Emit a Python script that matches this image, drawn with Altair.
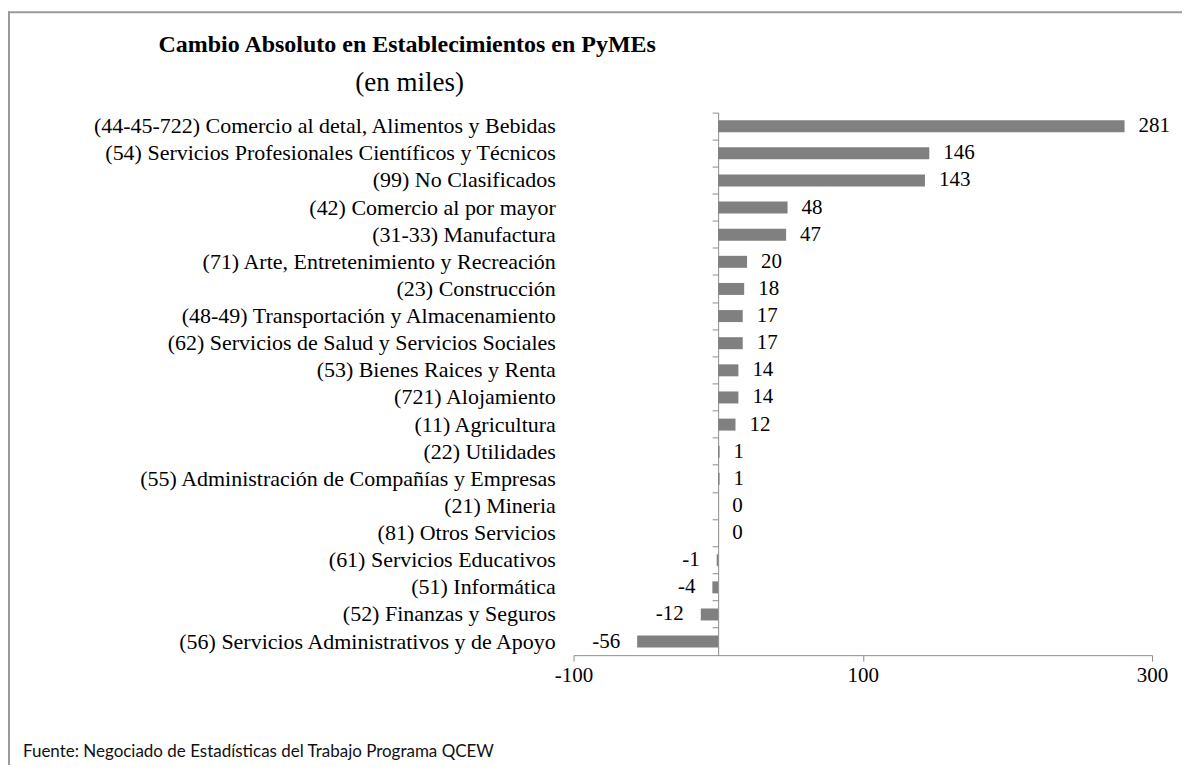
import altair as alt
import pandas as pd

categories = [
    "(44-45-722) Comercio al detal, Alimentos y Bebidas",
    "(54) Servicios Profesionales Científicos y Técnicos",
    "(99) No Clasificados",
    "(42) Comercio al por mayor",
    "(31-33) Manufactura",
    "(71) Arte, Entretenimiento y Recreación",
    "(23) Construcción",
    "(48-49) Transportación y Almacenamiento",
    "(62) Servicios de Salud y Servicios Sociales",
    "(53) Bienes Raices y Renta",
    "(721) Alojamiento",
    "(11) Agricultura",
    "(22) Utilidades",
    "(55) Administración de Compañías y Empresas",
    "(21) Mineria",
    "(81) Otros Servicios",
    "(61) Servicios Educativos",
    "(51) Informática",
    "(52) Finanzas y Seguros",
    "(56) Servicios Administrativos y de Apoyo",
]
values = [281, 146, 143, 48, 47, 20, 18, 17, 17, 14, 14, 12, 1, 1, 0, 0, -1, -4, -12, -56]
x_ticks = [-100, 100, 300]

TITLE = "Cambio Absoluto en Establecimientos en PyMEs"
SUBTITLE = "(en miles)"
SOURCE = "Fuente: Negociado de Estadísticas del Trabajo Programa QCEW"

df = pd.DataFrame({"cat": categories, "val": values})

W, H = 579, 543
SERIF = "Liberation Serif"
FS = 21

y_enc = alt.Y(
    "cat:N",
    sort=categories,
    scale=alt.Scale(paddingInner=0, paddingOuter=0),
    axis=alt.Axis(
        title=None,
        offset=-144.75,
        bandPosition=0,
        tickSize=6,
        tickColor="#8c8c8c",
        domainColor="#8c8c8c",
        labelPadding=157,
        labelFont=SERIF,
        labelFontSize=22,
        labelColor="black",
        labelLimit=800,
        grid=False,
    ),
)
x_enc = alt.X(
    "val:Q",
    scale=alt.Scale(domain=[-100, 300], nice=False, zero=False),
    axis=alt.Axis(
        title=None,
        values=x_ticks,
        tickSize=6,
        tickColor="#8c8c8c",
        domainColor="#8c8c8c",
        labelFont=SERIF,
        labelFontSize=FS,
        labelColor="black",
        labelPadding=3,
        labelFlush=False,
        labelExpr="toString(datum.value)",
        grid=False,
    ),
)

base = alt.Chart(df).transform_calculate(lbl="toString(datum.val)")

bars = base.mark_bar(color="#808080", size=12).encode(x=x_enc, y=y_enc)

pos_labels = base.transform_filter("datum.val >= 0").mark_text(
    align="left", baseline="middle", dx=14, font=SERIF, fontSize=FS, color="black"
).encode(x="val:Q", y=alt.Y("cat:N", sort=categories), text="lbl:N")

neg_labels = base.transform_filter("datum.val < 0").mark_text(
    align="right", baseline="middle", dx=-17, font=SERIF, fontSize=FS, color="black"
).encode(x="val:Q", y=alt.Y("cat:N", sort=categories), text="lbl:N")

title = alt.Chart(pd.DataFrame({"t": [TITLE]})).mark_text(
    align="center", baseline="alphabetic", font=SERIF, fontSize=24, fontWeight="bold", color="black"
).encode(x=alt.value(-166.5), y=alt.value(-61), text="t:N")

subtitle = alt.Chart(pd.DataFrame({"t": [SUBTITLE]})).mark_text(
    align="center", baseline="alphabetic", font=SERIF, fontSize=27, color="black"
).encode(x=alt.value(-164), y=alt.value(-22), text="t:N")

source = alt.Chart(pd.DataFrame({"t": [SOURCE]})).mark_text(
    align="left", baseline="middle", font="Lato", fontSize=17, color="#111111"
).encode(x=alt.value(-551), y=alt.value(640), text="t:N")

frame_top = alt.Chart(pd.DataFrame({"a": [0]})).mark_rule(color="#9a9a9a", strokeWidth=2).encode(
    x=alt.value(-566), x2=alt.value(640), y=alt.value(-100.4)
)
frame_left = alt.Chart(pd.DataFrame({"a": [0]})).mark_rule(color="#9a9a9a", strokeWidth=2).encode(
    x=alt.value(-565), y=alt.value(-101.4), y2=alt.value(700)
)

chart = alt.layer(
    bars, pos_labels, neg_labels, title, subtitle, source, frame_top, frame_left
).properties(
    width=W,
    height=H,
    autosize=alt.AutoSizeParams(type="none"),
    padding={"left": 566, "top": 104.4, "right": 30, "bottom": 110},
).configure_view(stroke=None)

chart.save("out.html", embed_options={"renderer": "svg", "actions": False})
